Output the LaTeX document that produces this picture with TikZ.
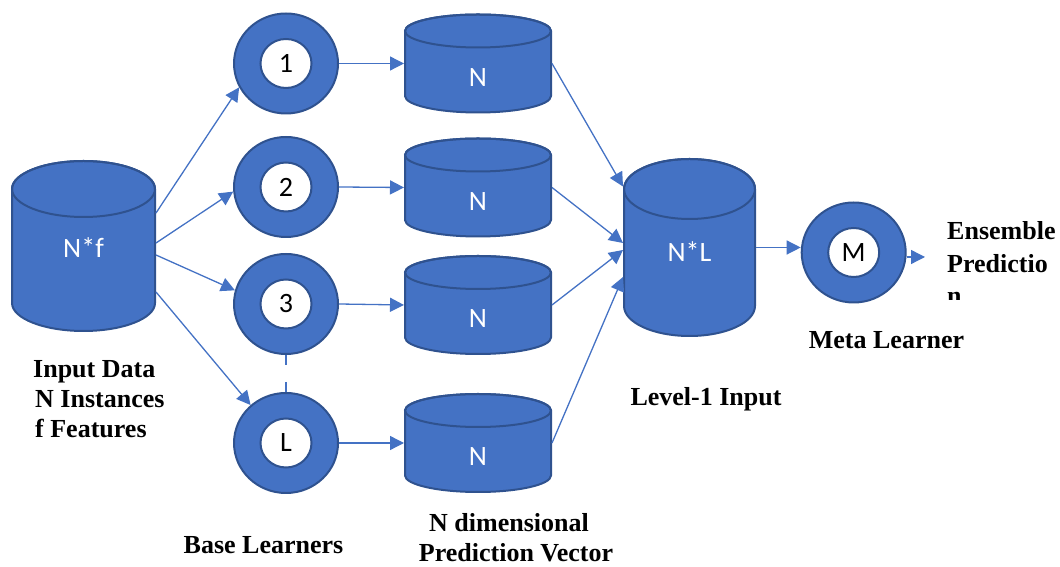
\documentclass[tikz,border=0pt]{standalone}
\usepackage{fontspec}
\setmainfont{Liberation Serif}
\newfontfamily\calib{Carlito}
\usetikzlibrary{arrows.meta,shapes.geometric}

\definecolor{drumblue}{HTML}{4472C4}
\definecolor{drumedge}{HTML}{2F528F}

\tikzset{
  shapeedge/.style={draw=drumedge, line width=2pt, fill=drumblue},
  ring/.style={ellipse, shapeedge, minimum width=104pt, minimum height=100pt, inner sep=0pt},
  hole/.style={ellipse, draw=drumedge, line width=2pt, fill=white, minimum width=51pt,
    minimum height=49pt, inner sep=0pt, font=\calib\fontsize{28}{32}\selectfont, text=black},
  box/.style={rectangle, draw=none, inner sep=0pt, outer sep=1pt},
  drumtext/.style={font=\calib\fontsize{28}{32}\selectfont, text=white, inner sep=0pt},
  link/.style={draw=drumblue, line width=1.3pt, -{Triangle[length=14pt,width=14pt]}},
  caption/.style={font=\bfseries\fontsize{26}{30}\selectfont, inner sep=0pt},
}

% cylinder: name, cx, cy, half width, half height, end radius, label drop, label
\newcommand\drum[8]{%
  \path[shapeedge] ({#2-#4},{#3+#5-#6}) -- ({#2-#4},{#3-#5+#6})
     arc[start angle=180, end angle=360, x radius=#4, y radius=#6]
     -- ({#2+#4},{#3+#5-#6})
     arc[start angle=0, end angle=180, x radius=#4, y radius=#6] -- cycle;
  \draw[draw=drumedge, line width=2pt] ({#2},{#3+#5-#6}) ellipse[x radius=#4, y radius=#6];
  \node[box, minimum width={2*#4}, minimum height={2*#5}] (#1) at (#2,#3) {};
  \node[drumtext] (#1-t) at ({#2},{#3-#7}) {#8};
}

% learner ring: name, x, y, label
\newcommand\learner[4]{%
  \node[ring] (#1) at (#2,#3) {};
  \node[hole] (#1-h) at (#1.center) {#4};
}

\begin{document}
\begin{tikzpicture}[x=1pt, y=1pt]
\useasboundingbox (0,0) rectangle (1060,567);

% input data
\drum{In}{83.5}{321}{71.5}{85}{28}{2}{N*f}

% base learners
\learner{C1}{286}{503.5}{1}
\learner{C2}{286}{380}{2}
\learner{C3}{286}{263}{3}
\learner{CL}{286}{124}{L}

% prediction vectors
\drum{N1}{478}{503.5}{73}{49}{16.5}{14}{N}
\drum{N2}{478}{379.5}{73}{49}{16.5}{14}{N}
\drum{N3}{478}{262}{73}{49}{16.5}{14}{N}
\drum{N4}{478}{124}{73}{49}{16.5}{14}{N}

% level-1 data and meta learner
\drum{NL}{689.5}{319.5}{65.5}{88.5}{30}{4.5}{N*L}
\learner{M}{853.7}{314.5}{M}
\coordinate (out) at (925,310);

% connectors
\draw[link] ([yshift=33pt]In.east) -- (C1.207);
\draw[link] ([yshift=3pt]In.east) -- (C2.185);
\draw[link] ([yshift=-9pt]In.east) -- (C3.165);
\draw[link] ([yshift=-46pt]In.east) -- (CL.133);

\draw[link] (C1.east) -- (N1.west);
\draw[link] (C2.east) -- (N2.west);
\draw[link] (C3.east) -- (N3.west);
\draw[link] (CL.east) -- (N4.west);
\draw[drumblue, line width=1.3pt, dash pattern=on 10pt off 17pt] (C3.south) -- (CL.north);

\draw[link] (N1.east) -- ([yshift=61pt]NL.west);
\draw[link] (N2.east) -- ([yshift=4.5pt]NL.west);
\draw[link] (N3.east) -- ([yshift=-2.5pt]NL.west);
\draw[link] (N4.east) -- ([yshift=-29.5pt]NL.west);

\draw[link] (NL.east) -- (NL.east -| M.west);
\draw[link] (M.east |- out) -- (out);

% captions
\node[caption, anchor=base west] (cap-in1) at (33,189) {Input Data};
\node[caption, anchor=base west] (cap-in2) at (35,159) {N Instances};
\node[caption, anchor=base west] (cap-in3) at (35,129) {f Features};
\node[caption, anchor=base] (cap-base) at (263.5,13) {Base Learners};
\node[caption, anchor=base] (cap-vec1) at (509,35) {N dimensional};
\node[caption, anchor=base] (cap-vec2) at (516,5) {Prediction Vector};
\node[caption, anchor=base] (cap-lvl) at (706,161) {Level-1 Input};
\node[caption, anchor=base] (cap-meta) at (886.5,218) {Meta Learner};
\begin{scope}
  \clip (900,267) rectangle (1060,345);
  \node[caption, anchor=base west] (cap-ens1) at (947,327) {Ensemble};
  \node[caption, anchor=base west] (cap-ens2) at (947,294.3) {Predictio};
  \node[caption, anchor=base west] (cap-ens3) at (947,262) {n};
\end{scope}
\end{tikzpicture}
\end{document}
